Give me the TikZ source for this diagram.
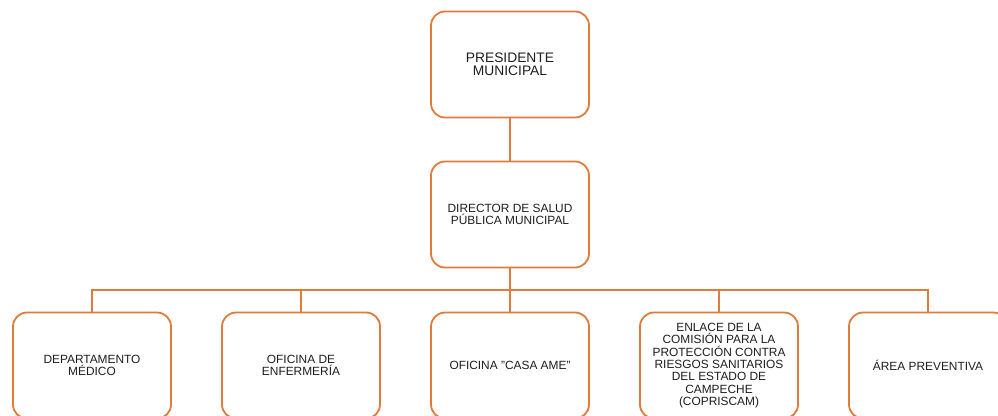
\documentclass[tikz,border=0pt]{standalone}
\usepackage{fontspec}
\setmainfont{Liberation Sans}
\usepackage{tikz}
\usetikzlibrary{positioning}
\definecolor{org_line}{HTML}{E07B39}
\definecolor{txt_gray}{HTML}{1E1E1E}

\begin{document}
\begin{tikzpicture}[
    x=1pt, y=-1pt,
    unitbox/.style={draw=org_line, line width=1.8pt, rounded corners=14pt,
        minimum width=158pt, minimum height=106pt, align=center, inner sep=2pt,
        text=txt_gray, font=\fontsize{11.9}{12.3}\selectfont},
    link/.style={draw=org_line, line width=1.8pt}
]

% --- Area visibile ---
\useasboundingbox (0,0) rectangle (998,415);
\clip (0,0) rectangle (998,415);

% --- Vertice ---
\node[unitbox, font=\fontsize{13.8}{12.7}\selectfont] (pres) at (510,64.5) {PRESIDENTE\\MUNICIPAL};
\node[unitbox] (dir) at (510,214.5) {DIRECTOR DE SALUD\\PÚBLICA MUNICIPAL};

% --- Unità operative ---
\node[unitbox] (med) at (92,365.5) {DEPARTAMENTO\\MÉDICO};
\node[unitbox] (enf) at (301,365.5) {OFICINA DE\\ENFERMERÍA};
\node[unitbox] (ame) at (510,365.5) {OFICINA "CASA AME"};
\node[unitbox] (cop) at (719,365.5) {ENLACE DE LA\\COMISIÓN PARA LA\\PROTECCIÓN CONTRA\\RIESGOS SANITARIOS\\DEL ESTADO DE\\CAMPECHE\\(COPRISCAM)};
\node[unitbox] (prev) at (928,365.5) {ÁREA PREVENTIVA};

% --- Collegamenti ---
\coordinate (bus) at (510,290);
\draw[link] (pres) -- (dir);
\draw[link] (dir) -- (bus);
\foreach \u in {med, enf, ame, cop, prev}
    \draw[link] (bus) -| (\u.north);

\end{tikzpicture}
\end{document}
